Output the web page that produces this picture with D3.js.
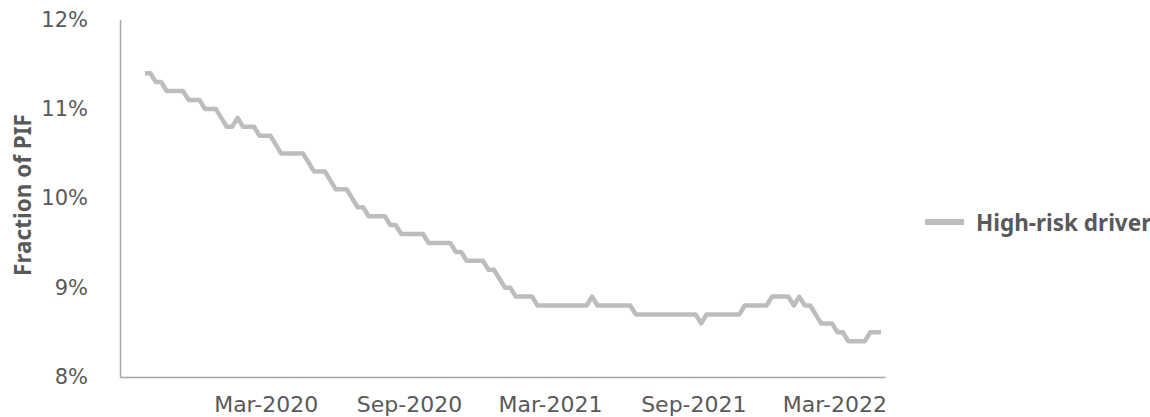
<!DOCTYPE html>
<meta charset="utf-8">
<script src="https://d3js.org/d3.v7.js"></script>
<style>
  body { margin: 0; background: #fff; }
</style>
<div id="chart"></div>
<script>

    // weekly series, first week and values (in %)
    const firstWeek = "2019-09-28";
    const highRisk = [
      11.4, 11.4, 11.3, 11.3, 11.2, 11.2, 11.2, 11.2, 11.1, 11.1,
      11.1, 11.0, 11.0, 11.0, 10.9, 10.8, 10.8, 10.9, 10.8, 10.8,
      10.8, 10.7, 10.7, 10.7, 10.6, 10.5, 10.5, 10.5, 10.5, 10.5,
      10.4, 10.3, 10.3, 10.3, 10.2, 10.1, 10.1, 10.1, 10.0, 9.9,
      9.9, 9.8, 9.8, 9.8, 9.8, 9.7, 9.7, 9.6, 9.6, 9.6,
      9.6, 9.6, 9.5, 9.5, 9.5, 9.5, 9.5, 9.4, 9.4, 9.3,
      9.3, 9.3, 9.3, 9.2, 9.2, 9.1, 9.0, 9.0, 8.9, 8.9,
      8.9, 8.9, 8.8, 8.8, 8.8, 8.8, 8.8, 8.8, 8.8, 8.8,
      8.8, 8.8, 8.9, 8.8, 8.8, 8.8, 8.8, 8.8, 8.8, 8.8,
      8.7, 8.7, 8.7, 8.7, 8.7, 8.7, 8.7, 8.7, 8.7, 8.7,
      8.7, 8.7, 8.6, 8.7, 8.7, 8.7, 8.7, 8.7, 8.7, 8.7,
      8.8, 8.8, 8.8, 8.8, 8.8, 8.9, 8.9, 8.9, 8.9, 8.8,
      8.9, 8.8, 8.8, 8.7, 8.6, 8.6, 8.6, 8.5, 8.5, 8.4,
      8.4, 8.4, 8.4, 8.5, 8.5, 8.5
    ];
    const yTicks = [8, 9, 10, 11, 12];
    const xTicks = ["2020-03-01", "2020-09-01", "2021-03-01", "2021-09-01", "2022-03-01"];
    const seriesName = "High-risk driver";

    const parse = d3.utcParse("%Y-%m-%d");
    const start = parse(firstWeek);
    const data = highRisk.map((v, i) => ({date: d3.utcDay.offset(start, 7 * i), value: v}));

    const width = 1150, height = 417;
    const plot = {left: 120, right: 885, top: 19.5, bottom: 377};

    const svg = d3.select("#chart")
      .append("svg")
        .attr("width", width)
        .attr("height", height);

    const x = d3.scaleUtc()
      .domain([d3.utcDay.offset(start, -32), d3.utcDay.offset(data[data.length - 1].date, 5)])
      .range([plot.left, plot.right]);

    const y = d3.scaleLinear()
      .domain([8, 12])
      .range([plot.bottom, plot.top]);

    // Y axis
    const gy = svg.append("g")
      .attr("transform", `translate(${plot.left},0)`)
      .call(d3.axisLeft(y).tickValues(yTicks).tickSize(0).tickPadding(32).tickFormat(d => d + "%"));

    // X axis
    const gx = svg.append("g")
      .attr("transform", `translate(0,${plot.bottom})`)
      .call(d3.axisBottom(x).tickValues(xTicks.map(parse)).tickSize(0).tickPadding(19)
        .tickFormat(d3.utcFormat("%b-%Y")));

    svg.selectAll(".domain")
      .attr("stroke", "#a6a6a6")
      .attr("stroke-width", 1.5);

    svg.selectAll(".tick text")
      .attr("fill", "#595959")
      .style("font-family", "DejaVu Sans");
    gy.selectAll(".tick text").style("font-size", "21px");
    gx.selectAll(".tick text").style("font-size", "22px");

    // line
    svg.append("path")
      .datum(data)
      .attr("fill", "none")
      .attr("stroke", "#bdbdbd")
      .attr("stroke-width", 4.5)
      .attr("stroke-linejoin", "round")
      .attr("d", d3.line().x(d => x(d.date)).y(d => y(d.value)));

    // Y title
    svg.append("text")
      .attr("transform", "translate(22,195) rotate(-90)")
      .attr("text-anchor", "middle")
      .attr("dominant-baseline", "central")
      .attr("fill", "#595959")
      .style("font-family", "Noto Sans")
      .style("font-weight", "bold")
      .style("font-size", "22.5px")
      .text("Fraction of PIF");

    // legend
    const lg = svg.append("g").attr("transform", "translate(925,222)");
    lg.append("line")
      .attr("x1", 0).attr("x2", 39)
      .attr("stroke", "#bdbdbd")
      .attr("stroke-width", 6);
    lg.append("text")
      .attr("x", 51)
      .attr("dominant-baseline", "central")
      .attr("fill", "#595959")
      .style("font-family", "Noto Sans")
      .style("font-weight", "bold")
      .style("font-size", "22.5px")
      .text(seriesName);

</script>
